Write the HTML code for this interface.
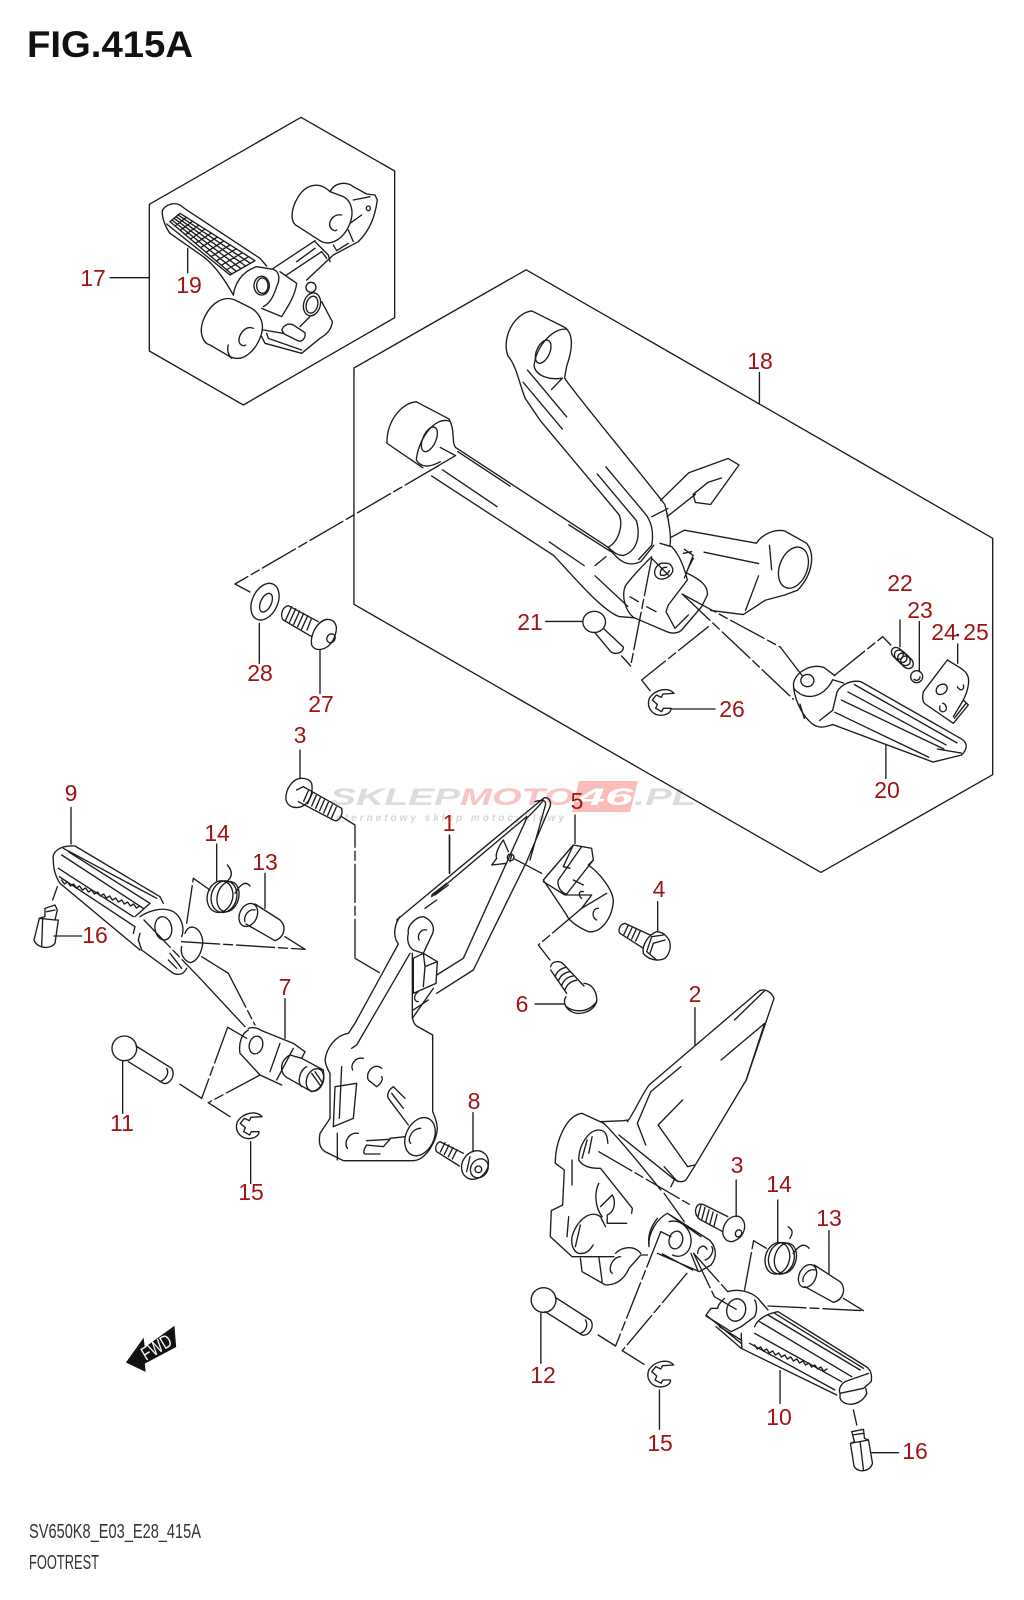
<!DOCTYPE html>
<html><head><meta charset="utf-8"><style>
html,body{margin:0;padding:0;background:#fff}
svg{display:block}
path,ellipse,circle{vector-effect:non-scaling-stroke}
.p path,.p ellipse,.p circle{fill:none;stroke:#1c1c1c;stroke-width:1.35;stroke-linecap:round;stroke-linejoin:round}
.p .d{stroke-dasharray:38 4 9 4}
.n text{font-family:"Liberation Sans",sans-serif;font-size:23px;fill:#a01414;text-anchor:middle}
</style></head><body>
<svg xmlns="http://www.w3.org/2000/svg" width="1024" height="1600" viewBox="0 0 1024 1600">
<rect width="1024" height="1600" fill="#fff"/>

<!-- watermark -->
<g font-family="Liberation Sans, sans-serif" font-weight="bold" font-style="italic">
<path d="M579,781 L638,781 L630,812 L572,812 Z" fill="#fbbcbc"/>
<text x="330" y="805" font-size="24" textLength="130" lengthAdjust="spacingAndGlyphs" fill="#dcdcdc">SKLEP</text>
<text x="460" y="805" font-size="24" textLength="114" lengthAdjust="spacingAndGlyphs" fill="#fbc4c4">MOTO</text>
<text x="577" y="805" font-size="24" textLength="56" lengthAdjust="spacingAndGlyphs" fill="#fff">46</text>
<text x="634" y="805" font-size="24" textLength="62" lengthAdjust="spacingAndGlyphs" fill="#dcdcdc">.PL</text>
<text x="330" y="821" font-size="10" textLength="234" fill="#d6d6d6">internetowy sklep motocyklowy</text>
</g>

<g class="p">
<!-- ZOOM 1 coords -->
<g transform="scale(.33333)">
<path d="M903,352 L1184,513 L1184,953 L730,1215 L448,1053 L448,613 Z"/>
<path d="M330,833 L446,833 M563,745 L563,818"/>
<path d="M700,885 C680,850 650,800 610,770 L510,700 C495,680 485,650 487,632 C495,615 520,605 540,615 L560,630 L780,775 L800,798"/>
<path d="M500,672 L690,825 L765,782 M510,665 L540,640 L765,782 L695,822 Z"/>
<path d="M516,660 L709,814 M522,655 L723,806 M528,650 L737,798 M534,645 L751,790 M525,678 L559,652 M541,691 L578,664 M556,704 L596,676 M572,717 L615,687 M587,730 L634,699 M602,743 L652,711 M618,757 L671,723 M633,770 L690,735 M649,783 L709,746 M664,796 L727,758 M680,809 L746,770"/>
<path d="M990,575 C960,545 920,550 895,590 C870,630 870,670 895,680 L960,722 C990,740 1030,720 1050,670 C1065,630 1050,600 1030,590 Z"/>
<path d="M1025,645 C1000,640 985,665 990,680 C995,690 1005,695 1010,690"/>
<path d="M990,575 C1005,545 1040,545 1060,560 L1100,582 L1125,585 L1132,600 C1125,650 1110,690 1075,725 L1000,765 L920,840"/>
<path d="M1060,600 L1110,590 M1050,670 L1085,645 M1045,690 L1060,725 M1000,735 L1010,752 L1045,730 M1105,625 m-6,0 a6,7 0 1 0 12,0 a6,7 0 1 0 -12,0"/>
<path d="M820,805 L945,722 M860,825 L965,755 M945,725 L985,765 L990,785 M890,785 L945,745 M965,755 L980,775"/>
<path d="M700,885 C705,850 725,815 770,800 L820,808 C840,815 840,840 830,860 C820,890 810,910 790,920 M840,815 L890,850 C885,890 860,925 845,950 L785,925"/>
<ellipse cx="785" cy="857" rx="23" ry="28"/><ellipse cx="787" cy="857" rx="17" ry="23"/>
<path d="M705,900 C670,885 630,910 610,960 C595,1000 610,1030 630,1035 L690,1070 C730,1090 770,1050 785,1000 C795,960 770,930 745,920 Z"/>
<path d="M760,985 C735,975 715,1005 717,1025 C720,1035 730,1040 737,1035 M685,1035 C680,1050 685,1065 695,1075"/>
<ellipse cx="936" cy="913" rx="25" ry="35" transform="rotate(15 936 913)"/><ellipse cx="936" cy="914" rx="17" ry="26" transform="rotate(15 936 914)"/>
<circle cx="933" cy="862" r="15"/>
<path d="M965,905 L997,965 C995,985 985,1000 960,1015 L905,1060 L795,1030 L785,1010 M800,1000 L805,1015 L905,1050 M790,990 L850,1000 M900,980 L930,950"/>
<path d="M845,990 C855,970 870,970 880,975 L915,998 C918,1015 905,1028 893,1022 L853,1002 Z"/>
</g>

<!-- ZOOM 2 coords -->
<g transform="translate(340,260) scale(.436,.4075)">
<path d="M427,24 L1497,683 L1497,1263 L1103,1503 L32,845 L32,265 Z"/>
<path d="M962,276 L962,352 M472,887 L555,887 M1252,1190 L1252,1272"/>
<path d="M385,235 C370,190 400,130 440,125 L515,165 C535,180 535,215 520,260 L515,290 C540,330 680,510 745,600 C755,640 760,680 757,700"/>
<path d="M385,235 C405,260 410,300 425,340 L460,395 L640,625 C650,650 640,690 615,705"/>
<path d="M520,170 C490,165 450,210 445,260 C450,285 480,295 510,290"/>
<ellipse cx="466" cy="225" rx="15" ry="30" transform="rotate(22 466 225)"/>
<path d="M430,270 L520,385 M420,300 L510,415 M590,525 L680,640 M610,508 L698,620 M680,640 C690,680 680,715 650,725 C635,725 625,715 615,705 M715,630 L752,610 M510,290 L485,318 M698,620 C715,640 720,670 715,700 L685,735"/>
<path d="M175,348 C140,350 105,400 108,450 L190,510 M175,348 L250,390 C265,420 255,445 265,460 L615,705 C640,740 660,755 690,740 L720,700"/>
<path d="M250,395 C215,385 180,440 175,490 C185,510 205,510 230,495"/>
<ellipse cx="205" cy="440" rx="15" ry="32" transform="rotate(22 205 440)"/>
<path d="M210,530 L490,725 C530,770 600,860 640,875 L675,878 M235,515 L360,605 M230,460 L265,480 L225,505 M270,470 L390,555 M525,650 L620,715 M480,692 L560,750 M585,750 L610,728 M585,775 L660,850"/>
<path d="M735,590 L800,522 L890,487 L915,503 L850,600 L815,595 L810,575 L845,545 L875,535 M750,630 L815,575"/>
<path d="M760,680 L790,663 L955,695 C970,670 1000,660 1020,665 L1070,695 C1090,720 1085,770 1050,810 L1020,822 L975,835 L925,870 L850,860 M835,717 L960,745 M960,775 L930,860 M985,700 L990,760 M790,710 L810,725 L790,780"/>
<ellipse cx="1040" cy="755" rx="32" ry="52" transform="rotate(18 1040 755)"/>
<circle cx="583" cy="888" r="26"/>
<path d="M605,905 L650,950 C650,965 630,970 620,960 L585,915"/>
<path class="d" d="M785,820 L1010,950"/><path d="M1010,950 L1060,1020"/>
<path class="d" d="M785,820 L1040,1078"/>
<path d="M1135,1020 L1110,1000 C1080,990 1045,1010 1040,1040 C1040,1075 1060,1115 1075,1130 C1095,1155 1115,1145 1130,1140 L1360,1232 L1425,1215 C1440,1200 1440,1185 1425,1175 L1195,1035 C1175,1030 1150,1040 1140,1060 L1130,1105 L1100,1130"/>
<circle cx="1072" cy="1032" r="15"/>
<path d="M1040,1050 C1065,1085 1110,1075 1130,1030 L1155,1038 M1055,1090 L1065,1125"/>
<path d="M1180,1042 L1415,1185 M1165,1060 L1390,1190 M1150,1080 L1385,1200 M1135,1110 L1350,1220 M1425,1210 L1370,1200"/>
</g>

<!-- leader to 28/27 -->
<path class="d" d="M438,466 L235,584"/><path d="M235,584 L250,592"/>
<!-- leader to 22 -->
<path class="d" d="M835,675 L882.7,636.7"/><path d="M882.7,636.7 L890.7,645"/>

<!-- crop: bracket centre + clip 26 -->
<g transform="translate(600,530) scale(.33333)">
<path d="M180,40 L215,50 C240,75 255,120 262,150 L205,225 L198,245 L225,295 L265,255"/>
<path d="M155,80 C130,105 90,145 75,170 C65,200 75,240 100,262 L200,305 C215,312 235,310 245,300 L305,230 L322,195 C325,170 305,150 262,130"/>
<path d="M90,200 L115,215 M140,230 L168,245 M155,85 L205,135 M250,70 L275,65 M280,85 L262,120"/>
<path d="M200,100 C175,95 160,115 165,135 C175,155 205,150 218,125 C220,110 210,100 200,100 Z M200,112 C185,110 178,125 182,135 C195,140 205,130 208,122"/>
<path class="d" d="M155,85 L92,408"/><path d="M92,408 L65,378"/>
<path class="d" d="M325,290 L125,450"/><path d="M125,450 L150,482"/>
<path d="M222,490 c-17,-20 -57,-12 -74,15 c-10,30 12,55 42,50 c15,-3 23,-10 23,-20 l-23,0 l-5,10 l-18,-10 l5,-12 l-15,-13 l12,-15 l15,7 l5,-10 z"/>
<path d="M213,537 L345,537"/>
</g>

<!-- crop: 22, 23, 24-25 -->
<g transform="translate(860,620) scale(.33333)">
<path d="M120,0 L120,80 M178,5 L178,155 M293,72 L293,130"/>
<circle cx="293" cy="45" r="2"/>
<ellipse cx="112" cy="100" rx="20" ry="15" transform="rotate(45 112 100)"/>
<ellipse cx="122" cy="109" rx="21" ry="16" transform="rotate(45 122 109)"/>
<ellipse cx="132" cy="118" rx="21" ry="16" transform="rotate(45 132 118)"/>
<ellipse cx="141" cy="127" rx="21" ry="16" transform="rotate(45 141 127)"/>
<circle cx="170" cy="170" r="18"/><path d="M162,178 C172,185 180,178 180,170"/>
<path d="M262,120 L190,215 C185,240 190,250 200,255 L280,310 L325,255 L310,240 C325,210 330,180 322,165 C315,150 295,140 262,120 Z M318,250 L283,295 M310,240 L280,290"/>
<ellipse cx="245" cy="208" rx="18" ry="14" transform="rotate(-40 245 208)"/>
<path d="M292,200 C300,215 315,210 310,195 M240,258 C235,275 250,280 258,270 C262,262 255,250 248,250"/>
</g>

<!-- ZOOM 3 coords -->
<g transform="translate(0,720) scale(.33333)">
<path d="M900,90 L900,175 M213,262 L213,372 M650,372 L650,482 M795,460 L795,565 M245,648 L162,648 M855,836 L855,955 M368,1025 L368,1180 M752,1265 L752,1390 M1419,1178 L1419,1295 M1349,348 L1349,460"/>
<path d="M905,175 C880,175 855,205 858,240 C865,265 890,265 905,260 C930,250 940,215 935,190 C930,178 915,175 905,175 Z"/>
<path d="M890,210 L910,200 L1025,265 C1030,285 1015,310 1000,300 L895,245"/>
<path d="M925,212 l-14,32 M937,219 l-14,32 M949,226 l-14,32 M961,233 l-14,32 M973,240 l-14,32 M985,247 l-14,32 M997,254 l-14,32 M1009,261 l-14,32"/>
<path class="d" d="M1025,290 L1065,315 L1065,715"/><path d="M1065,715 L1138,758"/>
<path d="M1200,590 C1185,610 1180,640 1188,660 L1195,672 L1065,910 L1045,940 C1010,945 980,980 975,1020 C978,1040 990,1060 990,1060 L990,1195 L960,1240 C955,1270 960,1285 975,1295 L1030,1322 L1240,1322 C1280,1320 1310,1260 1312,1225 C1310,1200 1298,1175 1298,1175 L1298,945 L1250,918 C1240,910 1238,900 1237,890 L1237,700"/>
<path d="M1237,895 L1300,805 M1230,700 L1070,975 L1055,985 M1025,1040 L1018,1195 M1012,1240 L1012,1320"/>
<path d="M1225,640 C1220,615 1250,590 1270,590 C1295,600 1305,620 1298,640 L1270,700 L1240,690 C1225,680 1220,660 1225,640 Z M1280,630 C1260,625 1250,650 1258,660"/>
<path d="M1240,715 L1270,700 L1312,725 L1308,790 L1240,820 Z M1270,700 L1275,740 L1312,725 M1275,740 L1270,800"/>
<path d="M1255,815 C1240,825 1240,845 1255,845 M1240,870 L1285,840"/>
<path d="M1005,1100 L1070,1090 L1060,1195 L1000,1220 M1005,1100 L1000,1220"/>
<path d="M1090,1015 C1065,1010 1050,1035 1058,1050 M1145,1045 C1120,1025 1095,1060 1105,1080 L1130,1100 C1145,1090 1150,1075 1145,1070"/>
<path d="M1180,1100 C1165,1110 1160,1125 1165,1135 L1225,1215 M1180,1100 L1215,1135 M1175,1120 L1210,1165"/>
<ellipse cx="1260" cy="1250" rx="42" ry="60" transform="rotate(25 1260 1250)"/>
<path d="M1262,1225 C1235,1225 1220,1260 1232,1270"/>
<path d="M1075,1240 C1045,1235 1030,1270 1042,1285 M1100,1262 L1170,1258 L1150,1280 L1100,1275 C1090,1290 1090,1300 1095,1302 L1140,1302 M1170,1255 L1215,1250"/>
<!-- part 8 bolt -->
<ellipse cx="1425" cy="1335" rx="38" ry="45" transform="rotate(35 1425 1335)"/>
<ellipse cx="1438" cy="1345" rx="25" ry="30" transform="rotate(35 1438 1345)"/>
<circle cx="1435" cy="1348" r="10"/>
<path d="M1320,1265 L1390,1300 M1310,1295 L1378,1338 M1320,1265 C1305,1272 1305,1290 1310,1295 M1335,1268 l-14,28 M1347,1275 l-14,28 M1359,1282 l-14,28 M1371,1289 l-14,28 M1410,1310 L1400,1355"/>
<!-- peg 9 -->
<path d="M160,420 C155,395 180,375 225,378 L480,530 L490,550 M160,420 C160,450 170,475 180,490 L420,690"/>
<path d="M185,480 l8,12 l10,-6 l8,12 l10,-6 l8,12 l10,-6 l8,12 l10,-6 l8,12 l10,-6 l8,12 l10,-6 l8,12 l10,-6 l8,12 l10,-6 l8,12 l10,-6 l8,12 l10,-6 l8,12 l10,-6 l8,12 l10,-6 l8,12 l10,-6"/>
<path d="M205,395 L450,550 M185,405 L430,565 M175,445 L400,590 M178,470 L405,620 L400,640 M190,385 L470,535 M450,550 L405,590"/>
<path d="M420,590 C450,570 490,560 520,575 C545,590 555,625 545,650 M415,660 L425,690 L520,760 C545,770 555,755 560,745"/>
<ellipse cx="490" cy="625" rx="25" ry="35" transform="rotate(-10 490 625)"/>
<path d="M510,700 L545,745 M505,720 L530,745 M420,640 L415,660"/>
<path d="M555,640 C570,600 610,630 608,670 C605,700 590,725 570,728 C550,720 540,700 545,680"/>
<path class="d" d="M432,600 L600,775"/><path d="M600,775 L735,920"/>
<path d="M605,710 L685,760"/><path class="d" d="M685,760 L765,915"/>
<path class="d" d="M560,610 L580,475"/><path d="M580,475 L630,510"/>
<path class="d" d="M545,665 L915,688"/><path d="M915,688 L855,650"/>
<!-- spring 14 -->
<ellipse cx="660" cy="530" rx="38" ry="48" transform="rotate(15 660 530)"/>
<ellipse cx="672" cy="530" rx="38" ry="48" transform="rotate(15 672 530)"/>
<ellipse cx="684" cy="530" rx="32" ry="46" transform="rotate(15 684 530)"/>
<path d="M685,480 C700,465 695,450 682,435 M705,520 C720,495 735,480 750,498"/>
<!-- sleeve 13 -->
<ellipse cx="745" cy="585" rx="26" ry="36" transform="rotate(25 745 585)"/>
<path d="M765,552 L840,600 C860,620 855,650 825,662 L738,612 M765,570 C745,565 730,590 735,605"/>
<!-- 16 -->
<path class="d" d="M172,500 L158,540"/>
<path d="M135,565 L165,555 L172,570 L165,600 L175,600 L165,670 C150,690 110,685 102,660 L118,595 L135,590 Z M118,595 L165,600 M128,595 L125,680 M140,575 L165,570"/>
<!-- 7 -->
<path d="M745,930 C725,940 715,970 720,1000 L780,1065 L845,1095 M745,925 C760,920 775,925 785,932 L880,970 L915,995 L905,1015 M840,970 L810,1055 M880,985 L830,1080"/>
<ellipse cx="768" cy="975" rx="20" ry="27" transform="rotate(15 768 975)"/>
<path d="M905,1015 L970,1050 C975,1080 965,1110 935,1115 L865,1075 C835,1060 840,1020 870,1005 L905,1015"/>
<ellipse cx="945" cy="1080" rx="25" ry="35" transform="rotate(20 945 1080)"/>
<path d="M920,1040 C900,1050 890,1085 905,1100 M935,1060 L960,1095 M945,1055 L965,1085"/>
<path class="d" d="M683,922 L605,1135"/><path d="M740,955 L683,922 M605,1135 L540,1093"/>
<path class="d" d="M780,1065 L625,1148"/><path d="M625,1148 L690,1190"/>
<!-- 11 -->
<circle cx="373" cy="985" r="37"/>
<path d="M408,978 L515,1045 C528,1065 510,1095 490,1090 L385,1025 M500,1045 C510,1060 495,1080 480,1085"/>
<!-- 15 -->
<path d="M786,1190 c-17,-20 -57,-12 -74,15 c-10,30 12,55 42,50 c15,-3 23,-10 23,-20 l-23,0 l-5,10 l-18,-10 l5,-12 l-15,-13 l12,-15 l15,7 l5,-10 z"/>
</g>

<!-- ZOOM 4 coords -->
<g transform="translate(500,960) scale(.335,.33333)">
<path d="M582,143 L582,255 M105,132 L192,132 M705,660 L705,770 M829,720 L829,845 M982,812 L982,940 M122,1060 L122,1210 M476,1290 L476,1408 M836,1232 L836,1330 M1110,1478 L1190,1478"/>
<path d="M380,485 C400,460 425,400 445,375 L775,92 C790,85 810,95 818,115 L735,360 L580,620 L555,660 C540,672 520,660 510,650 L355,525"/>
<path d="M300,485 L370,482 L380,480 M700,180 L790,92 M660,300 L790,190 L735,360 M450,395 L410,490 L435,555 M450,395 L540,320 M545,420 L472,495 L560,620 L580,615 M490,620 L530,665 M510,680 L520,660"/>
<path d="M165,610 C165,540 200,465 245,460 L310,490 C340,520 400,590 460,665 L480,690 M165,610 L192,630 L187,735 L153,752 L150,830 L215,890 L340,890 M215,600 L215,675"/>
<path d="M295,510 C265,510 235,555 235,600 C250,625 285,625 300,625 L395,745 L393,760 M322,550 C320,525 315,510 295,510"/>
<path d="M260,540 L245,595 M275,530 L265,580 M295,670 C280,700 285,745 305,770 M335,705 C345,720 345,755 320,765 L320,790 L378,790 M300,740 L335,705"/>
<path d="M300,770 C265,745 225,790 215,830 C210,860 225,885 245,880 C260,880 272,865 278,855 M240,795 L225,860 M205,770 L200,830 M300,770 L315,800"/>
<path d="M240,895 L245,935 L315,975 C345,975 370,960 385,925 L420,885 L440,885 M345,880 C365,860 400,855 420,880 M360,890 C335,890 320,930 335,940"/>
<path d="M295,890 L305,965"/>
<path d="M445,860 C440,820 470,775 500,760 L625,840 C645,860 650,890 630,915 M470,775 C450,800 440,830 445,860 M500,760 L600,830"/>
<path class="d" d="M480,815 L345,1158"/><path d="M480,815 L510,830 M345,1158 L293,1125"/>
<ellipse cx="525" cy="840" rx="20" ry="27" transform="rotate(15 525 840)"/>
<path d="M505,785 C540,775 575,810 570,850 C565,885 535,895 515,885"/>
<path d="M590,880 C590,860 610,850 618,868 M612,900 C630,895 640,870 632,860"/>
<path d="M470,880 L595,935 L630,915 M485,882 L575,930 M570,880 L590,930"/>
<path d="M490,700 L550,785"/>
<path class="d" d="M295,575 L565,733"/>
<path class="d" d="M558,940 L365,1172"/><path d="M365,1172 L430,1213"/>
<path class="d" d="M578,880 L680,995"/>
<path class="d" d="M578,880 L640,1010"/><path d="M640,1010 L705,1048"/>
<!-- bolt 3 -->
<path d="M585,745 C590,730 600,730 610,735 L680,770 M585,745 C580,760 590,775 600,780 L665,815"/>
<path d="M600,735 l-10,38 M612,742 l-10,38 M624,749 l-10,38 M636,756 l-10,38 M648,763 l-10,38"/>
<path d="M705,768 C680,770 665,795 665,820 C670,845 690,850 705,840 C725,830 735,805 728,785 C722,772 715,768 705,768 Z"/>
<ellipse cx="712" cy="820" rx="9" ry="11" transform="rotate(30 712 820)"/>
<!-- spring 14 -->
<ellipse cx="828" cy="895" rx="36" ry="48" transform="rotate(15 828 895)"/>
<ellipse cx="840" cy="895" rx="38" ry="48" transform="rotate(15 840 895)"/>
<ellipse cx="852" cy="895" rx="32" ry="46" transform="rotate(15 852 895)"/>
<path d="M860,800 C875,810 875,820 865,835 M875,880 C890,860 905,845 923,865"/>
<!-- sleeve 13 -->
<ellipse cx="918" cy="948" rx="25" ry="36" transform="rotate(25 918 948)"/>
<path d="M938,915 L1015,965 C1035,985 1025,1020 995,1027 L910,980 M940,930 C920,925 900,950 905,965"/>
<path class="d" d="M800,1038 L1085,1052"/><path d="M1085,1052 L1025,1015"/>
<path class="d" d="M730,990 L757,842"/><path d="M757,842 L795,865"/>
<!-- peg 10 -->
<path d="M680,995 C710,985 750,995 770,1015 L800,1050 M670,1015 C660,1025 650,1035 650,1045 L630,1045 L615,1065 L720,1150"/>
<path d="M615,1068 L690,1115 L720,1100 L760,1070 C770,1050 765,1025 760,1020"/>
<ellipse cx="705" cy="1050" rx="28" ry="34" transform="rotate(15 705 1050)"/>
<path d="M645,1100 L720,1165 L1005,1305 M655,1100 L720,1140 M720,1120 L722,1165"/>
<path d="M760,1100 C770,1075 800,1060 830,1055 L1085,1215 C1105,1225 1112,1240 1108,1265 L1085,1285 L1015,1300 C1010,1290 1015,1275 1030,1265 L1100,1240"/>
<path d="M800,1065 L1075,1230 M775,1085 L1050,1250 M760,1120 L1020,1265 M745,1150 L1000,1290 M820,1060 L1085,1225"/>
<path d="M760,1155 l8,12 l10,-6 l8,12 l10,-6 l8,12 l10,-6 l8,12 l10,-6 l8,12 l10,-6 l8,12 l10,-6 l8,12 l10,-6 l8,12 l10,-6 l8,12 l10,-6 l8,12 l10,-6 l8,12 l10,-6 l8,12 l10,-6"/>
<path d="M1015,1315 C1030,1345 1080,1335 1095,1300 L1092,1285 M1015,1315 L1015,1300"/>
<path class="d" d="M1055,1350 L1065,1395"/>
<!-- 16 -->
<path d="M1050,1415 L1085,1408 L1088,1435 L1100,1440 L1112,1510 C1105,1535 1070,1540 1057,1520 L1046,1450 L1058,1445 Z M1046,1450 L1100,1440 M1075,1445 L1085,1530 M1052,1425 L1085,1420"/>
<!-- 12 -->
<circle cx="130" cy="1020" r="37"/>
<path d="M165,1012 L270,1080 C285,1100 265,1130 245,1125 L135,1055 M255,1080 C265,1095 255,1115 240,1120"/>
<!-- 15 -->
<path d="M518,1215 c-17,-20 -57,-12 -74,15 c-10,30 12,55 42,50 c15,-3 23,-10 23,-20 l-23,0 l-5,10 l-18,-10 l5,-12 l-15,-13 l12,-15 l15,7 l5,-10 z"/>
</g>

<!-- ZOOM 6 coords -->
<g transform="translate(220,560) scale(.33333)">
<path d="M118,190 L118,310 M300,270 L300,400"/>
<ellipse cx="135" cy="125" rx="38" ry="58" transform="rotate(25 135 125)"/>
<ellipse cx="138" cy="128" rx="16" ry="30" transform="rotate(25 138 128)"/>
<path d="M205,137 L295,185 M190,180 L275,230 M205,137 C185,140 180,170 190,180 M215,140 l-18,40 M227,146 l-18,40 M239,153 l-18,40 M251,160 l-18,40 M263,167 l-18,40 M275,174 l-14,36"/>
<path d="M320,178 C290,185 270,225 275,255 C285,275 310,270 325,258 C345,240 355,205 345,190 C340,180 330,178 320,178 Z"/>
<ellipse cx="333" cy="235" rx="12" ry="14" transform="rotate(30 333 235)"/>
</g>

<!-- ZOOM 7 coords -->
<g transform="translate(380,780) scale(.33333)">
<path d="M208,165 L208,280 M585,105 L585,190 M833,365 L833,455 M465,672 L550,672"/>
<path d="M50,420 L490,55 C505,48 515,65 510,80 L440,245 L280,570 L170,640 M155,350 L440,110 M465,65 C495,55 500,65 495,80 L450,240 M490,60 C480,75 470,85 440,115 L250,535 L170,585"/>
<path d="M155,345 L200,310 M165,345 L205,315 M135,385 L170,360"/>
<path d="M370,180 C355,200 345,225 350,235 L335,255 L380,250 M395,225 L390,245 M370,180 L385,215"/>
<circle cx="392" cy="232" r="10"/>
<path d="M400,235 L485,280"/>
<path d="M490,300 L580,195 L635,205 L640,240 L625,255 C660,280 700,330 700,365 C695,420 660,460 625,455 C590,440 565,420 560,405 L490,300 Z"/>
<path d="M605,200 L535,300 C530,320 545,340 560,342 L640,240 M580,195 L550,260 L570,265 M490,305 L555,345 L635,345 L605,385 L680,340 M580,300 L610,315"/>
<path d="M610,335 C595,330 595,350 605,355 M655,385 C635,385 635,415 650,420"/>
<path class="d" d="M605,385 L475,495"/><path d="M475,495 L510,540"/>
<!-- bolt 6 -->
<path d="M512,560 C515,545 535,540 548,550 L612,618 M512,570 L560,640 M525,590 q10,-25 35,-28 M535,603 q10,-25 35,-28 M545,616 q10,-25 35,-28 M555,629 q10,-25 35,-28"/>
<path d="M612,610 C640,612 652,640 650,665 C640,695 600,708 575,695 C555,685 548,665 558,650 M555,675 C570,695 620,705 650,665"/>
<!-- bolt 4 -->
<path d="M735,430 L810,465 M720,460 L790,505 M735,430 C715,435 715,455 720,460 M745,435 l-14,30 M757,441 l-14,30 M769,447 l-14,30 M781,453 l-14,30"/>
<path d="M830,455 C805,465 785,495 790,520 C805,540 835,545 855,535 C875,515 875,485 860,470 C850,458 840,455 830,455 Z"/>
<path d="M850,465 L815,470 L800,515 L830,540 M855,480 L820,490 L810,520"/>
</g>
</g>

<!-- FWD arrow -->
<g transform="translate(0,1300) scale(.33333)">
<path d="M380,187 L430,117 L433,145 L522,80 L527,140 L433,190 L435,213 Z" fill="#111" stroke="#111" stroke-width="1"/>
</g>
<text x="146" y="1361" font-family="Liberation Sans, sans-serif" font-size="19" fill="#fff" transform="rotate(-31 146 1361)" textLength="32" lengthAdjust="spacingAndGlyphs">FWD</text>

<!-- labels -->
<g class="n">
<text x="93" y="286">17</text><text x="189" y="293">19</text>
<text x="760" y="369">18</text><text x="530" y="630">21</text><text x="900" y="591">22</text>
<text x="920" y="618">23</text><text x="944" y="640">24</text><text x="976" y="640">25</text>
<text x="732" y="717">26</text><text x="887" y="798">20</text>
<text x="260" y="681">28</text><text x="321" y="712">27</text>
<text x="300" y="743">3</text><text x="71" y="801">9</text><text x="217" y="841">14</text>
<text x="265" y="870">13</text><text x="95" y="943">16</text><text x="285" y="995">7</text>
<text x="122" y="1131">11</text><text x="251" y="1200">15</text><text x="474" y="1109">8</text>
<text x="449" y="831">1</text><text x="577" y="809">5</text><text x="659" y="897">4</text>
<text x="522" y="1012">6</text><text x="695" y="1002">2</text>
<text x="737" y="1173">3</text><text x="779" y="1192">14</text><text x="829" y="1226">13</text>
<text x="543" y="1383">12</text><text x="660" y="1451">15</text><text x="779" y="1425">10</text><text x="915" y="1459">16</text>
</g>

<text x="27" y="57" font-family="Liberation Sans, sans-serif" font-weight="bold" font-size="37" fill="#111" textLength="166" lengthAdjust="spacingAndGlyphs">FIG.415A</text>
<text x="29" y="1538" font-family="Liberation Sans, sans-serif" font-size="20" fill="#333" textLength="172" lengthAdjust="spacingAndGlyphs">SV650K8_E03_E28_415A</text>
<text x="29" y="1569" font-family="Liberation Sans, sans-serif" font-size="20" fill="#333" textLength="70" lengthAdjust="spacingAndGlyphs">FOOTREST</text>
</svg>
</body></html>
